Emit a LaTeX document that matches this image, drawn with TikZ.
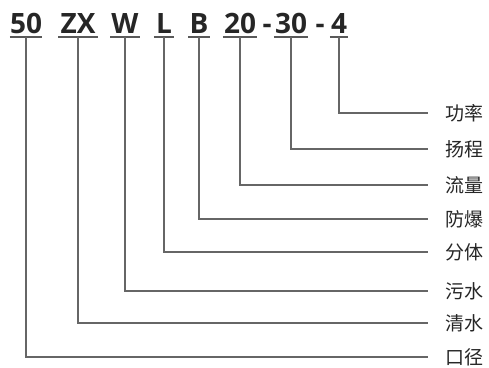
\documentclass[tikz,border=0pt]{standalone}
\usepackage{fontspec}
\setmainfont{Open Sans}
\newfontfamily\cjk{Noto Sans CJK SC}
\begin{document}
\begin{tikzpicture}[x=1pt,y=-1pt,
  code/.style={font=\fontsize{28}{28}\selectfont\bfseries, text=black!85, inner sep=0pt, anchor=base},
  lab/.style={font=\cjk\fontsize{19}{19}\selectfont, text=black!85, inner sep=0pt, anchor=west},
  ln/.style={draw=black!60, line width=1.3pt},
  ul/.style={draw=black!65, line width=1.4pt}]
\useasboundingbox (0,0) rectangle (489,367);
% codes
\node[code] (c1) at (26,33) {50};
\node[code] (c2) at (78,33) {ZX};
\node[code] (c3) at (125,33) {W};
\node[code] (c4) at (164,33) {L};
\node[code] (c5) at (199,33) {B};
\node[code] (c6) at (240,33) {20};
\node[code] (h1) at (267,33) {-};
\node[code] (c7) at (291,33) {30};
\node[code] (h2) at (320,33) {-};
\node[code] (c8) at (339,33) {4};
% underlines
\foreach \n/\e in {c1/0,c2/2,c3/1,c4/2,c5/1,c6/1,c7/1,c8/1}{
  \draw[ul] ([xshift=-\e pt,yshift=-4pt]\n.base west) -- ([xshift=\e pt,yshift=-4pt]\n.base east);
}
% labels
\node[lab] (l8) at (445,113) {功率};
\node[lab] (l7) at (445,149) {扬程};
\node[lab] (l6) at (445,185) {流量};
\node[lab] (l5) at (445,219) {防爆};
\node[lab] (l4) at (445,252) {分体};
\node[lab] (l3) at (445,291) {污水};
\node[lab] (l2) at (445,323) {清水};
\node[lab] (l1) at (445,357) {口径};
% connectors
\foreach \i in {1,...,8}{
  \draw[ln] ([yshift=-4pt]c\i.base) |- ([xshift=-17pt]l\i.west);
}
\end{tikzpicture}
\end{document}
